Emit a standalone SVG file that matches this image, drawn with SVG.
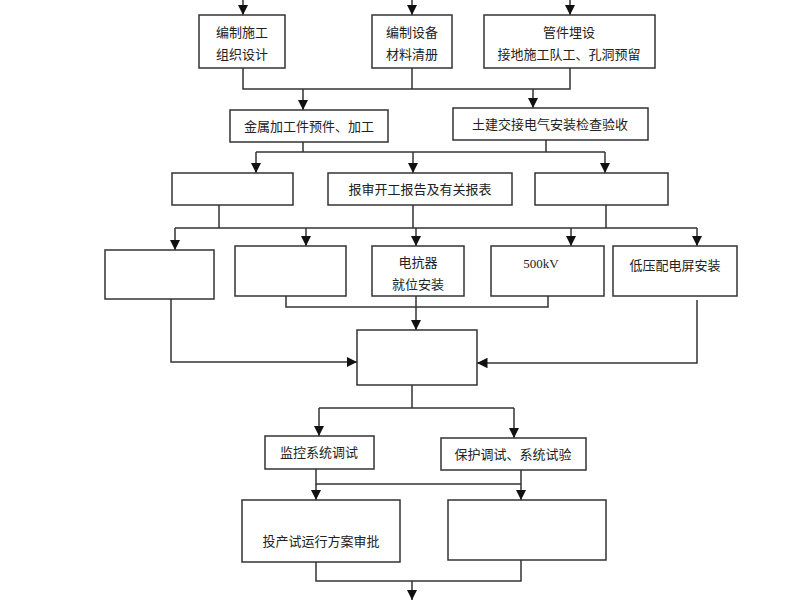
<svg xmlns="http://www.w3.org/2000/svg" width="800" height="600" viewBox="0 0 800 600">
<defs>
<marker id="ah" viewBox="0 0 10 10" refX="10" refY="5" markerWidth="7" markerHeight="7" orient="auto"><path d="M0,0 L10,5 L0,10 z" fill="#111"/></marker>
<style>
rect{fill:#fff;stroke:#333;stroke-width:1.5}
text{font-family:"Noto Sans CJK SC","Liberation Sans",sans-serif;font-size:13px;fill:#222;text-anchor:middle}
.c path{fill:none;stroke:#333;stroke-width:1.5}
.a{marker-end:url(#ah)}
</style>
</defs>
<rect x="0" y="0" width="800" height="600" style="stroke:none"/>
<g class="c">
<path class="a" d="M243,0 V15"/><path class="a" d="M412,0 V15"/><path class="a" d="M570,0 V15"/>
<path d="M243,68 V89 H570 V68 M412,68 V89"/>
<path class="a" d="M303,89 V110"/><path class="a" d="M533,89 V108"/>
<path d="M303,142 V152 M546,140 V152 M256,152 H605"/>
<path class="a" d="M256,152 V173"/><path class="a" d="M413,152 V173"/><path class="a" d="M605,152 V173"/>
<path d="M219,205 V228 M413,205 V228 M606,205 V228 M175,228 H697"/>
<path class="a" d="M175,228 V250"/><path class="a" d="M306,228 V246"/><path class="a" d="M416,228 V246"/><path class="a" d="M571,228 V246"/><path class="a" d="M697,228 V246"/>
<path d="M286,296 V307 H548 V296"/>
<path class="a" d="M416,296 V330"/>
<path class="a" d="M171,299 V362 H357"/>
<path class="a" d="M697,300 V363 H477"/>
<path d="M412,385 V408 M319,408 H514"/>
<path class="a" d="M319,408 V436"/><path class="a" d="M514,408 V438"/>
<path d="M316,469 V484 H521 M521,470 V484"/>
<path class="a" d="M316,484 V500"/><path class="a" d="M521,484 V500"/>
<path d="M316,562 V581 H521 V560"/>
<path class="a" d="M412,581 V600"/>
</g>
<g id="n1"><rect x="199" y="15" width="86" height="53"/><text x="242" y="37">编制施工</text><text x="242" y="59">组织设计</text></g>
<g id="n2"><rect x="372" y="15" width="80" height="53"/><text x="412" y="37">编制设备</text><text x="412" y="59">材料清册</text></g>
<g id="n3"><rect x="484" y="15" width="171" height="53"/><text x="569" y="37">管件埋设</text><text x="569" y="59">接地施工队工、孔洞预留</text></g>
<g id="n4"><rect x="230" y="110" width="158" height="32"/><text x="309" y="131">金属加工件预件、加工</text></g>
<g id="n5"><rect x="453" y="108" width="195" height="32"/><text x="550" y="129">土建交接电气安装检查验收</text></g>
<g id="n6"><rect x="172" y="173" width="121" height="32"/></g>
<g id="n7"><rect x="328" y="173" width="184" height="32"/><text x="420" y="194">报审开工报告及有关报表</text></g>
<g id="n8"><rect x="535" y="173" width="133" height="32"/></g>
<g id="n9"><rect x="105" y="250" width="109" height="49"/></g>
<g id="n10"><rect x="235" y="246" width="111" height="50"/></g>
<g id="n11"><rect x="372" y="246" width="92" height="50"/><text x="418" y="267">电抗器</text><text x="418" y="289">就位安装</text></g>
<g id="n12"><rect x="491" y="246" width="113" height="50"/><text x="541" y="268" style="font-family:'Liberation Serif',serif">500kV</text></g>
<g id="n13"><rect x="613" y="246" width="124" height="50"/><text x="675" y="270">低压配电屏安装</text></g>
<g id="n14"><rect x="357" y="330" width="120" height="55"/></g>
<g id="n15"><rect x="265" y="436" width="109" height="33"/><text x="319" y="457">监控系统调试</text></g>
<g id="n16"><rect x="441" y="438" width="145" height="32"/><text x="513" y="459">保护调试、系统试验</text></g>
<g id="n17"><rect x="242" y="500" width="158" height="62"/><text x="321" y="546">投产试运行方案审批</text></g>
<g id="n18"><rect x="448" y="500" width="158" height="60"/></g>
</svg>
